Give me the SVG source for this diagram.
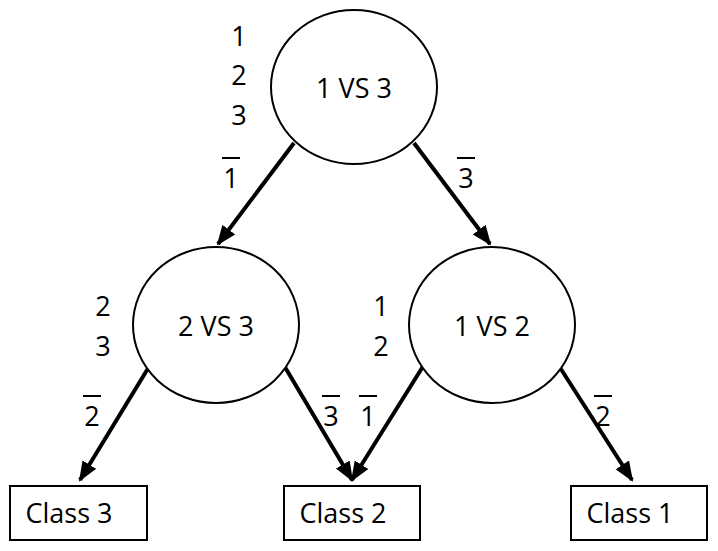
<svg xmlns="http://www.w3.org/2000/svg" width="718" height="551" viewBox="0 0 718 551">
<style>
text{font-family:"Open Sans",Lato,"Liberation Sans",sans-serif;font-size:27px;fill:#000;text-anchor:middle}
.n{fill:#fff;stroke:#000;stroke-width:2}
.e{stroke:#000;stroke-width:4;fill:none;marker-end:url(#ah)}
.ob{stroke:#000;stroke-width:2}
</style>
<defs>
<marker id="ah" markerUnits="userSpaceOnUse" markerWidth="20" markerHeight="20" viewBox="0 0 20 20" refX="18" refY="10" orient="auto">
<path d="M0,2 L20,10 L0,18 Z" fill="#000"/>
</marker>
</defs>
<rect width="718" height="551" fill="#fff"/>
<g id="connectors">
<line class="e" x1="294" y1="143" x2="218" y2="244"/>
<line class="e" x1="414" y1="143" x2="490" y2="244"/>
<line class="e" x1="158" y1="352" x2="80" y2="480"/>
<line class="e" x1="276" y1="352" x2="352" y2="480"/>
<line class="e" x1="432" y1="352" x2="352" y2="480"/>
<line class="e" x1="550" y1="352" x2="632" y2="480"/>
</g>
<g id="n13">
<ellipse class="n" cx="354" cy="87" rx="83" ry="77"/>
<text x="354" y="98">1 VS 3</text>
</g>
<g id="n23">
<ellipse class="n" cx="216" cy="325" rx="83" ry="78"/>
<text x="216" y="336">2 VS 3</text>
</g>
<g id="n12">
<ellipse class="n" cx="492" cy="325" rx="83" ry="78"/>
<text x="492" y="336">1 VS 2</text>
</g>
<g id="c3">
<rect class="n" x="10" y="486" width="137" height="54"/>
<text x="69" y="523">Class 3</text>
</g>
<g id="c2">
<rect class="n" x="284" y="486" width="136" height="54"/>
<text x="343" y="523">Class 2</text>
</g>
<g id="c1">
<rect class="n" x="571" y="486" width="136" height="54"/>
<text x="630" y="523">Class 1</text>
</g>
<g id="labels">
<text x="239" y="46">1</text>
<text x="239" y="85">2</text>
<text x="239" y="125">3</text>
<text x="231" y="188">1</text>
<line class="ob" x1="222" y1="158" x2="240" y2="158"/>
<text x="466" y="188">3</text>
<line class="ob" x1="457" y1="158" x2="475" y2="158"/>
<text x="103" y="316">2</text>
<text x="103" y="356">3</text>
<text x="381" y="316">1</text>
<text x="381" y="356">2</text>
<text x="92" y="426">2</text>
<line class="ob" x1="83" y1="396" x2="101" y2="396"/>
<text x="331" y="426">3</text>
<line class="ob" x1="322" y1="396" x2="340" y2="396"/>
<text x="368" y="426">1</text>
<line class="ob" x1="359" y1="396" x2="377" y2="396"/>
<text x="603" y="426">2</text>
<line class="ob" x1="594" y1="396" x2="612" y2="396"/>
</g>
</svg>
